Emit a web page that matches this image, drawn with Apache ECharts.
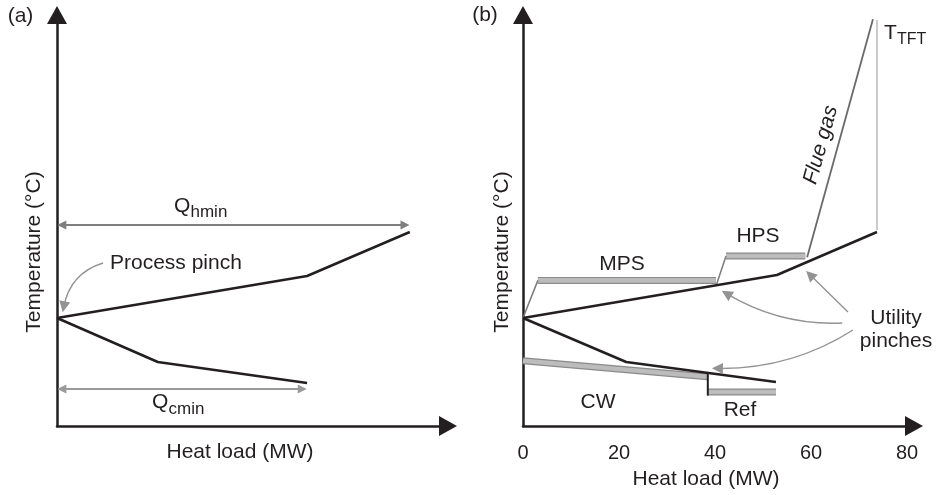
<!DOCTYPE html>
<html>
<head>
<meta charset="utf-8">
<script src="https://cdn.jsdelivr.net/npm/echarts@6/dist/echarts.min.js"></script>
<style>
  html, body { margin: 0; padding: 0; background: #ffffff; }
  #chart { width: 938px; height: 495px; }
</style>
</head>
<body>
<div id="chart"></div>
<script>
// Heat load in MW on x; temperature on an unscaled axis (no ticks shown).
const xTicks = [0, 20, 40, 60, 80];
const yRange = [0, 102];

// Panel (a): grand composite curve and the minimum utility targets
const gccAboveA = [[0, 27], [52.1, 37.5], [73.5, 48.5]];
const gccBelowA = [[0, 27], [21, 16], [52.1, 10.75]];
const qhminA = [[1.0, 50.25], [72.5, 50.25]];
const qcminA = [[1.0, 9.25], [51.1, 9.25]];
const pinchArrowA = [[9.6, 40.75], [1.4, 29.8]];

// Panel (b): same curve with the utility levels placed against it
const gccAboveB = [[0, 27], [52.9, 37.75], [73.75, 48.5]];
const gccBelowB = [[0, 27], [21.5, 16], [52.7, 11]];
const mpsRise = [[0, 27], [3.1, 36.4]];
const mpsLevel = [[3.1, 36.4], [40.2, 36.4]];
const hpsRise = [[40.3, 35.3], [42.3, 42.5]];
const hpsLevel = [[42.3, 42.5], [58.8, 42.5]];
const flueGas = [[59.2, 42.2], [72.9, 101.7]];
const tftDrop = [[73.75, 101.5], [73.75, 49]];
const cwLevel = [[0, 16.3], [38.4, 12.3]];
const refLevel = [[38.5, 8.5], [52.7, 8.5]];
const refStep = [[38.5, 13.3], [38.5, 7.6]];
const utilityArrowMps = [[66.5, 25.75], [42.4, 33.1]];
const utilityArrowHps = [[67.7, 28.5], [59.8, 37.8]];
const utilityArrowCold = [[68.75, 24], [40.5, 14.4]];

const INK = '#231f20';
const FONT = '"Liberation Sans", Arial, Helvetica, sans-serif';
const BAR_EDGE = '#8a8a8a';
const BAR_FILL = '#bcbcbc';
const POINTER = '#939393';

const chart = echarts.init(document.getElementById('chart'), null, { renderer: 'canvas' });

function xAxisFor(idx, showLabels, nameGap) {
  return {
    type: 'value', gridIndex: idx,
    min: xTicks[0], max: xTicks[xTicks.length - 1], interval: xTicks[1] - xTicks[0],
    axisLine: {
      show: true, onZero: false,
      symbol: ['none', 'triangle'], symbolSize: [20, 18], symbolOffset: [0, 7],
      lineStyle: { color: INK, width: 2.5 }
    },
    axisTick: { show: false },
    splitLine: { show: false },
    axisLabel: { show: showLabels, margin: 17, color: INK, fontSize: 20, fontFamily: FONT },
    name: 'Heat load (MW)', nameLocation: 'middle', nameGap: nameGap,
    nameTextStyle: { color: INK, fontSize: 21, fontFamily: FONT, padding: [0, 18, 0, 0] }
  };
}

function yAxisFor(idx, nameGap) {
  return {
    type: 'value', gridIndex: idx, min: yRange[0], max: yRange[1],
    axisLine: {
      show: true, onZero: false,
      symbol: ['none', 'triangle'], symbolSize: [20, 18], symbolOffset: [0, 3],
      lineStyle: { color: INK, width: 2.5 }
    },
    axisTick: { show: false },
    splitLine: { show: false },
    axisLabel: { show: false },
    name: 'Temperature (°C)', nameLocation: 'middle', nameRotate: 90, nameGap: nameGap,
    nameTextStyle: { color: INK, fontSize: 21, fontFamily: FONT, padding: [0, 60, 0, 0] }
  };
}

function path(idx, data, color, width, z) {
  return {
    type: 'line', xAxisIndex: idx, yAxisIndex: idx, data: data,
    symbol: 'none', silent: true, clip: false, z: z,
    lineStyle: { color: color, width: width, cap: 'butt' }
  };
}

// utility level drawn as a light bar with a darker rim
function bar(idx, data) {
  return [
    path(idx, data, BAR_EDGE, 7, 2),
    path(idx, data, BAR_FILL, 4.6, 3)
  ];
}

// annotation pointer between two data positions, optionally bent
function pointer(idx, pts, opt) {
  return {
    type: 'lines', coordinateSystem: 'cartesian2d', xAxisIndex: idx, yAxisIndex: idx,
    silent: true, z: 7, animation: false,
    symbol: [opt.both ? 'triangle' : 'none', 'triangle'],
    symbolSize: opt.size || 11,
    lineStyle: { color: opt.color || POINTER, width: opt.width || 1.4, type: 'solid', curveness: opt.curve || 0, opacity: 1 },
    data: [{ coords: pts }]
  };
}

const series = [
  // panel (a)
  path(0, gccAboveA, INK, 2.5, 5),
  path(0, gccBelowA, INK, 2.5, 5),
  pointer(0, qhminA, { both: true, color: '#7f7f7f', width: 2, size: 9 }),
  pointer(0, qcminA, { both: true, color: '#9a9a9a', width: 2, size: 9 }),
  pointer(0, pinchArrowA, { curve: -0.3 }),
  // panel (b)
  ...bar(1, mpsLevel),
  ...bar(1, hpsLevel),
  ...bar(1, cwLevel),
  ...bar(1, refLevel),
  path(1, mpsRise, '#7a7a7a', 1.5, 4),
  path(1, hpsRise, '#7a7a7a', 1.5, 4),
  path(1, flueGas, '#6a6a6a', 1.8, 4),
  path(1, tftDrop, '#a8a8a8', 1.2, 4),
  path(1, gccAboveB, INK, 2.5, 5),
  path(1, gccBelowB, INK, 2.5, 5),
  path(1, refStep, INK, 2, 6),
  pointer(1, utilityArrowMps, { curve: 0.15 }),
  pointer(1, utilityArrowHps, { curve: 0 }),
  pointer(1, utilityArrowCold, { curve: 0.15 })
];

function label(x, y, text, opt) {
  opt = opt || {};
  return {
    type: 'text', x: x, y: y, rotation: opt.rotation || 0, silent: true, z: 20,
    style: {
      text: text, fill: INK,
      fontSize: opt.size || 21, fontFamily: FONT, fontStyle: opt.italic ? 'italic' : 'normal',
      align: opt.align || 'center', verticalAlign: 'middle'
    }
  };
}

const graphic = [
  label(20.5, 16, '(a)'),
  label(485, 15, '(b)'),
  label(174, 206, 'Q', { align: 'left' }),
  label(190.5, 212.5, 'hmin', { align: 'left', size: 17 }),
  label(152, 402.5, 'Q', { align: 'left' }),
  label(168.5, 409, 'cmin', { align: 'left', size: 17 }),
  label(110, 263, 'Process pinch', { align: 'left' }),
  label(622, 264.5, 'MPS'),
  label(758, 236, 'HPS'),
  label(598, 402, 'CW'),
  label(740, 410, 'Ref'),
  label(896, 318, 'Utility'),
  label(896, 341.5, 'pinches'),
  label(884, 33, 'T', { align: 'left' }),
  label(897, 39.5, 'TFT', { align: 'left', size: 16 }),
  label(821, 145, 'Flue gas', { rotation: 74.5 * Math.PI / 180, italic: true })
];

chart.setOption({
  animation: false,
  backgroundColor: '#ffffff',
  grid: [
    { left: 57, top: 18, width: 384, height: 408 },
    { left: 523, top: 18, width: 384, height: 408 }
  ],
  xAxis: [xAxisFor(0, false, 15.5), xAxisFor(1, true, 43)],
  yAxis: [yAxisFor(0, 12), yAxisFor(1, 10)],
  series: series,
  graphic: graphic
});
</script>
</body>
</html>
